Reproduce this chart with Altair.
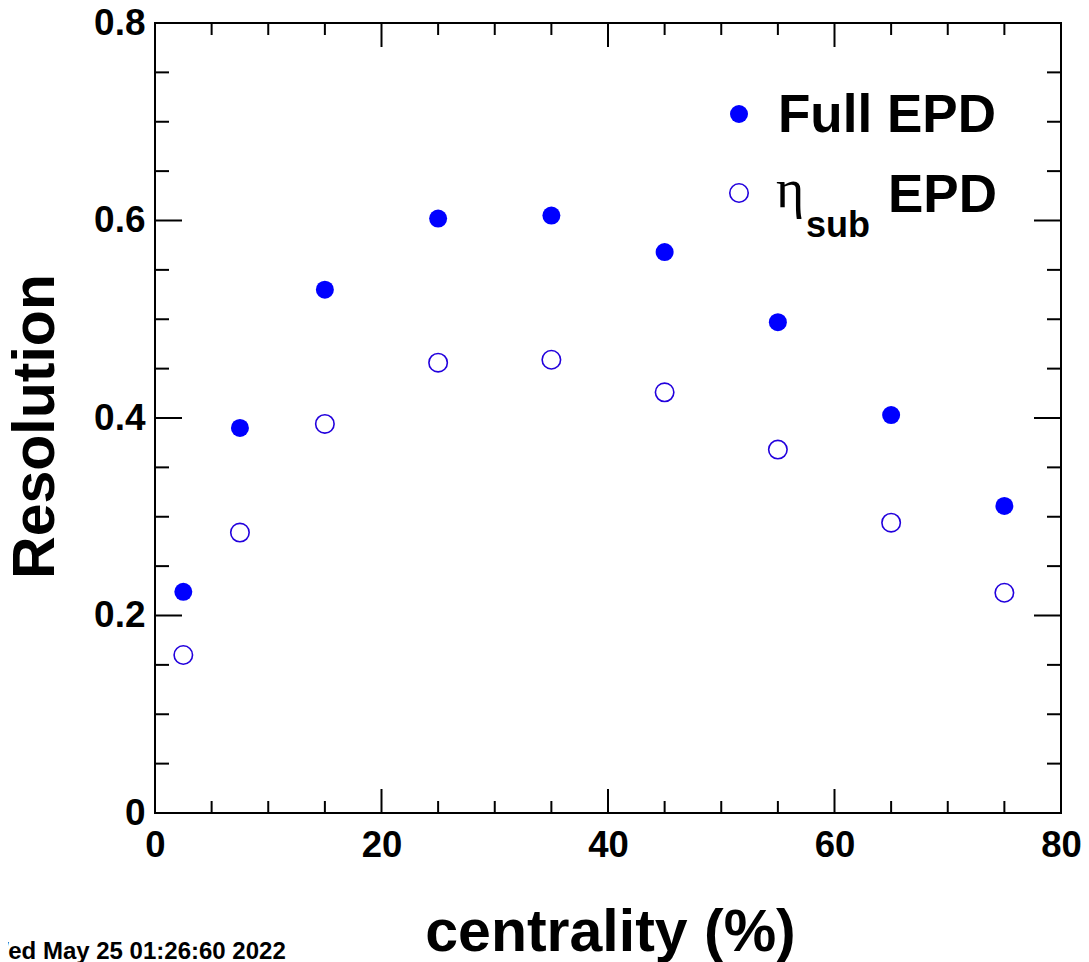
import altair as alt
import pandas as pd

# ---- data ----
centrality = [2.5, 7.5, 15, 25, 35, 45, 55, 65, 75]
full_epd = [0.224, 0.390, 0.530, 0.602, 0.605, 0.568, 0.497, 0.403, 0.311]
eta_sub_epd = [0.160, 0.284, 0.394, 0.456, 0.459, 0.426, 0.368, 0.294, 0.223]

x_labels = [0, 20, 40, 60, 80]
y_labels = [0, 0.2, 0.4, 0.6, 0.8]
x_major = [20, 40, 60]
x_minor = [5, 10, 15, 25, 30, 35, 45, 50, 55, 65, 70, 75]
y_major = [0.2, 0.4, 0.6]
y_minor = [0.05, 0.1, 0.15, 0.25, 0.3, 0.35, 0.45, 0.5, 0.55, 0.65, 0.7, 0.75]

timestamp = "Wed May 25 01:26:60 2022"

# ---- layout ----
W, H = 906, 790
FONT = "Liberation Sans"
BLUE = "#0000ff"
OPEN = "#2200dd"

xscale = alt.Scale(domain=[0, 80], nice=False, zero=False)
yscale = alt.Scale(domain=[0, 0.8], nice=False, zero=False)

xaxis = alt.Axis(
    values=x_labels, ticks=False, tickSize=0, domain=False, grid=False,
    labelFont=FONT, labelFontSize=36.5, labelFontWeight="bold", labelColor="black",
    labelPadding=14, labelFlush=False, labelOverlap=False,
    title="centrality (%)", titleFont=FONT, titleFontSize=59, titleFontWeight="bold",
    titleColor="black", titleX=455, titleY=137, titleBaseline="alphabetic",
    titleAlign="center",
)
yaxis = alt.Axis(
    values=y_labels, ticks=False, tickSize=0, domain=False, grid=False,
    labelExpr="datum.value == 0 ? '0' : format(datum.value, '.1f')",
    labelFont=FONT, labelFontSize=37, labelFontWeight="bold", labelColor="black",
    labelPadding=10, labelFlush=False, labelOverlap=False,
    title="Resolution", titleFont=FONT, titleFontSize=59, titleFontWeight="bold",
    titleColor="black", titleX=-102, titleY=403, titleBaseline="alphabetic",
    titleAlign="center", titleAngle=270,
)


def X():
    return alt.X("centrality:Q", scale=xscale, axis=xaxis)


def Y():
    return alt.Y("resolution:Q", scale=yscale, axis=yaxis)


df_full = pd.DataFrame({"centrality": centrality, "resolution": full_epd})
df_sub = pd.DataFrame({"centrality": centrality, "resolution": eta_sub_epd})

full_pts = alt.Chart(df_full).mark_point(
    filled=True, shape="circle", size=324, color=BLUE, opacity=1
).encode(x=X(), y=Y())

sub_pts = alt.Chart(df_sub).mark_point(
    filled=False, shape="circle", size=340, color=OPEN, strokeWidth=1.6,
    fill="white", fillOpacity=1, opacity=1
).encode(x=X(), y=Y())

layers = []


def xticks(vals, L):
    d = pd.DataFrame({"centrality": vals})
    bot = alt.Chart(d).mark_rule(color="black", strokeWidth=2).encode(
        x=X(), y=alt.value(H), y2=alt.value(H - L))
    top = alt.Chart(d).mark_rule(color="black", strokeWidth=2).encode(
        x=X(), y=alt.value(0), y2=alt.value(L))
    return [bot, top]


def yticks(vals, L):
    d = pd.DataFrame({"resolution": vals})
    left = alt.Chart(d).mark_rule(color="black", strokeWidth=2).encode(
        y=Y(), x=alt.value(0), x2=alt.value(L))
    right = alt.Chart(d).mark_rule(color="black", strokeWidth=2).encode(
        y=Y(), x=alt.value(W), x2=alt.value(W - L))
    return [left, right]


layers += xticks(x_major, 24) + xticks(x_minor, 12)
layers += yticks(y_major, 27) + yticks(y_minor, 14)


def text(t, x, y, size, font=FONT, weight="bold", align="left"):
    return alt.Chart(pd.DataFrame({"t": [t]})).mark_text(
        font=font, fontSize=size, fontWeight=weight, align=align,
        baseline="alphabetic", color="black"
    ).encode(text="t:N", x=alt.value(x), y=alt.value(y))


one = pd.DataFrame({"k": [0]})
leg_full = alt.Chart(one).mark_point(
    filled=True, shape="circle", size=324, color=BLUE, opacity=1
).encode(x=alt.value(584), y=alt.value(91))
leg_sub = alt.Chart(one).mark_point(
    filled=False, shape="circle", size=340, color=OPEN, strokeWidth=1.6,
    fill="white", fillOpacity=1, opacity=1
).encode(x=alt.value(584), y=alt.value(170))

legend = [
    leg_full, leg_sub,
    text("Full EPD", 623, 109, 53),
    text("η", 621, 184, 54, font="Liberation Serif", weight="normal"),
    text("sub", 651, 214, 36),
    text("EPD", 733, 189, 53),
]

stamp = text(timestamp, -169, 936, 24)

chart = alt.layer(
    *layers, sub_pts, full_pts, *legend, stamp
).properties(
    width=W, height=H,
    autosize=alt.AutoSizeParams(type="none"),
    padding={"left": 147, "top": 15, "right": 20, "bottom": 149},
    background="white",
).configure_view(stroke="black", strokeWidth=2)

chart.save("out.html", embed_options={"renderer": "svg", "actions": False})
